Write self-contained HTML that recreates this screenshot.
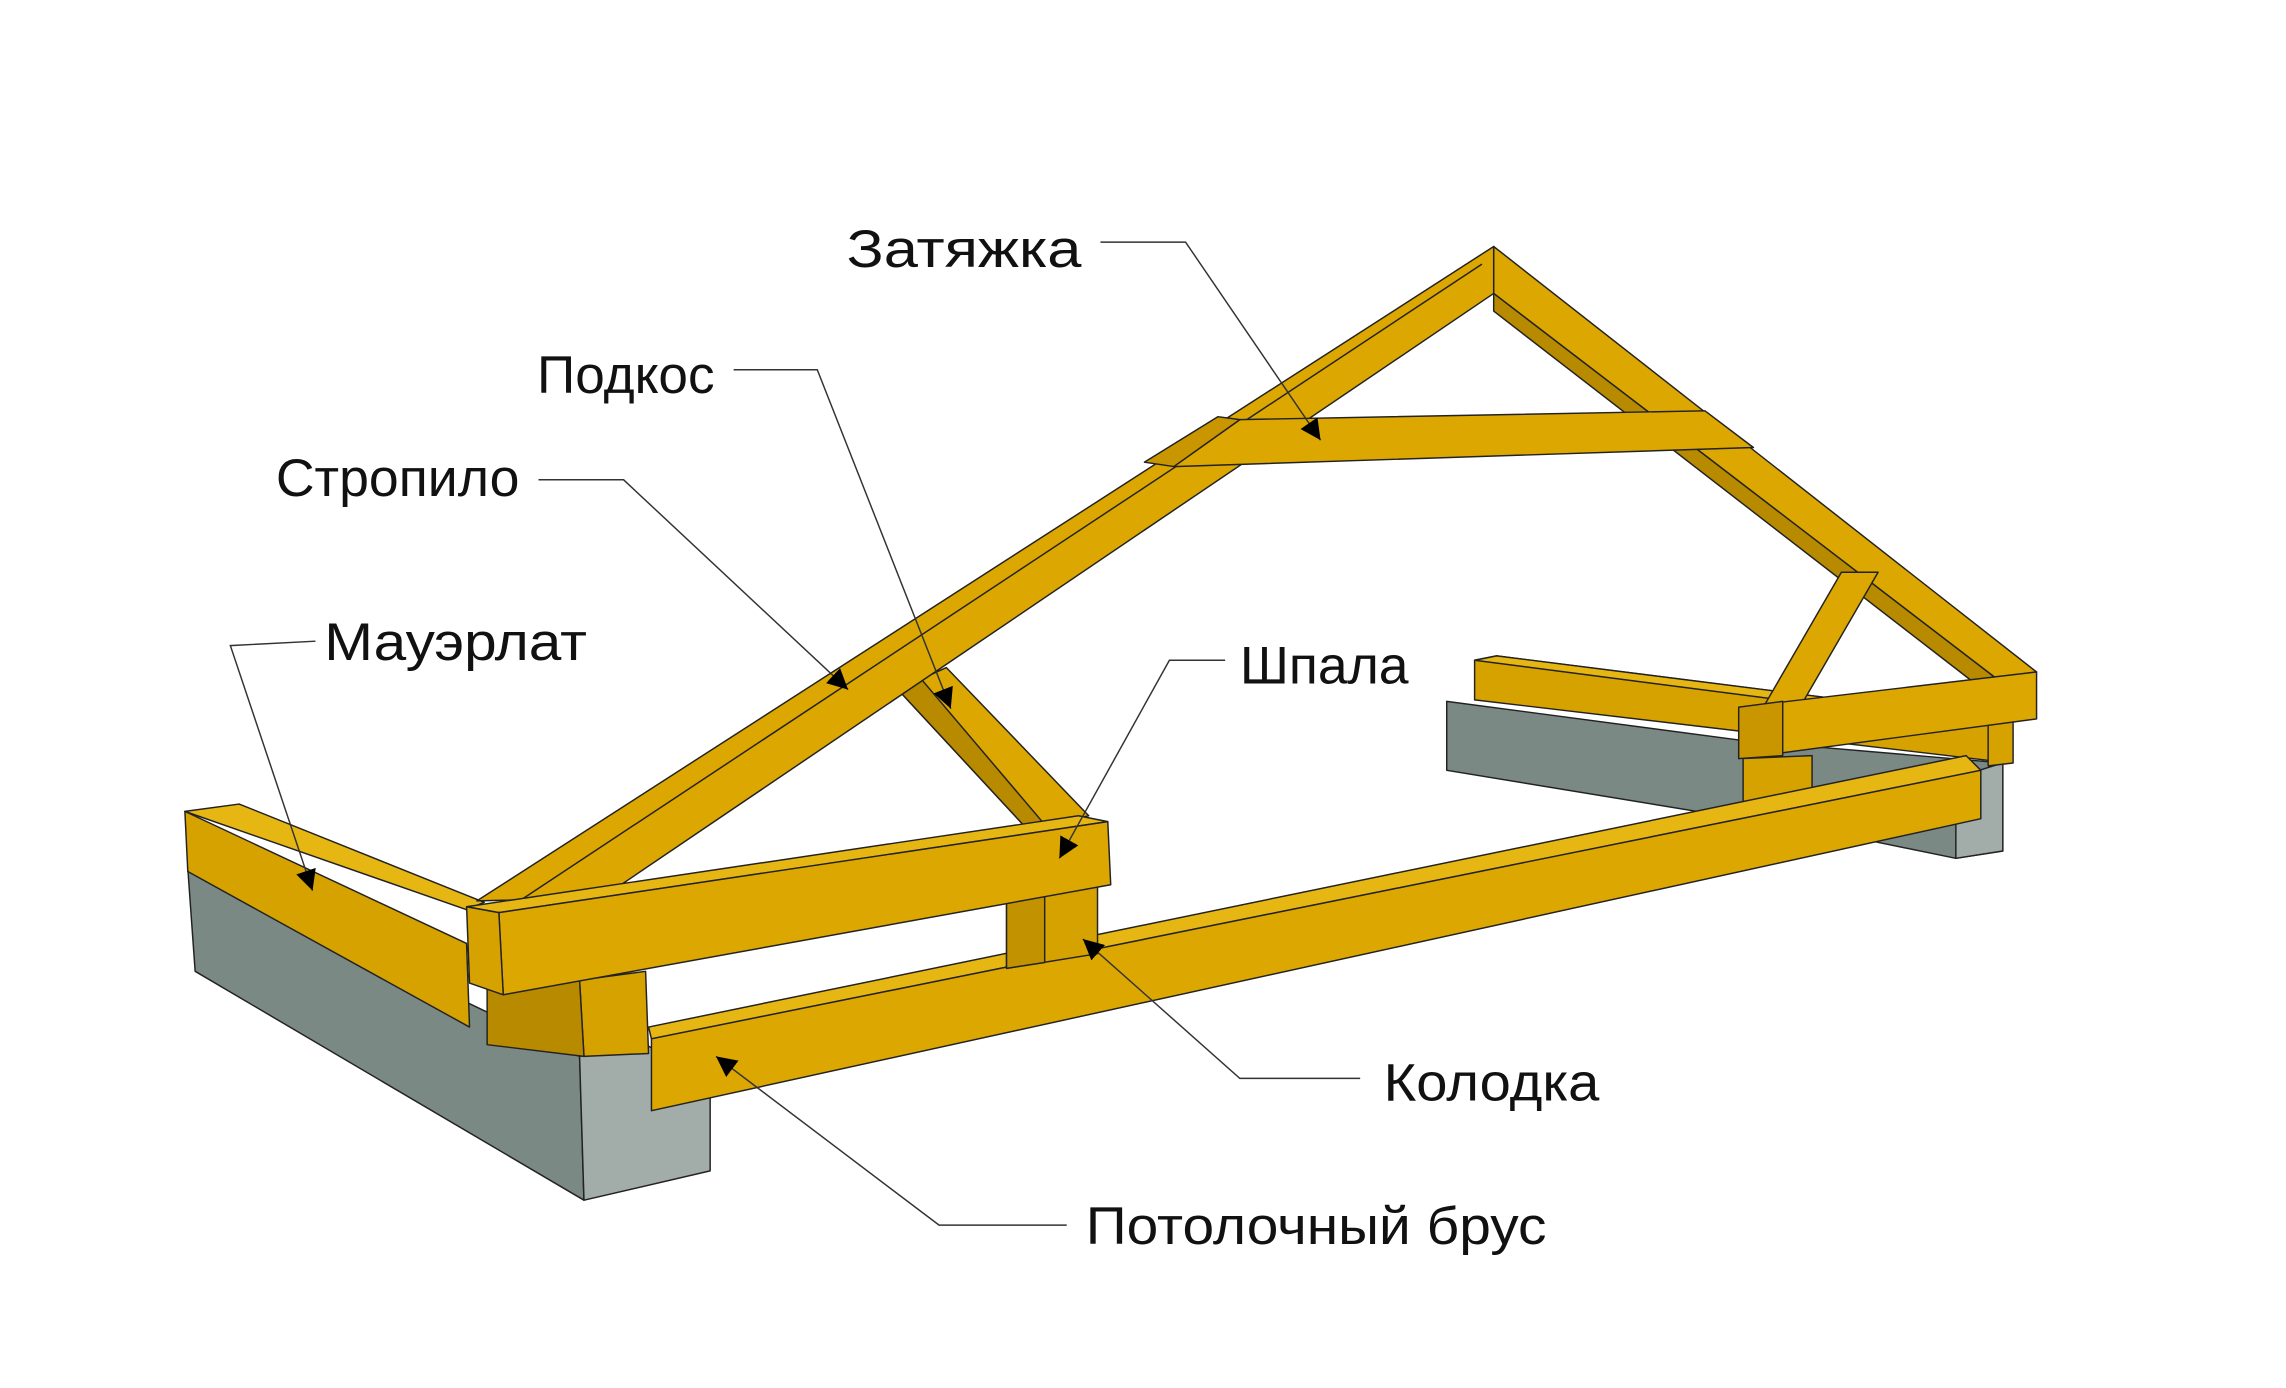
<!DOCTYPE html>
<html><head><meta charset="utf-8"><style>
html,body{margin:0;padding:0;background:#fff;}
svg{display:block;}
text{font-family:"Liberation Sans",sans-serif;font-size:36px;fill:#111;}
</style></head><body>
<svg width="2286" height="1388" viewBox="0 0 1558 946" preserveAspectRatio="none" xmlns="http://www.w3.org/2000/svg">
<defs>
<marker id="ar" viewBox="0 0 10 10" refX="10" refY="5" markerWidth="14" markerHeight="14" markerUnits="userSpaceOnUse" orient="auto"><path d="M0,0 L10,5 L0,10 z" fill="#000"/></marker>
</defs>
<g stroke="#222" stroke-width="1" stroke-linejoin="round">
<!-- right concrete -->
<polygon points="986,478 1190,505 1365,520 1365,580 1333,585 1260,570 986,525" fill="#7a8984"/>
<polygon points="1333,530 1365,520 1365,580 1333,585" fill="#a2aca9"/>
<!-- left concrete -->
<polygon points="128,592 395,720 398,818 133,662" fill="#7a8984"/>
<polygon points="395,720 440,712 484,735 484,798 398,818" fill="#a2aca9"/>
<!-- right mauerlat -->
<polygon points="1005,450 1020,447 1360,490 1370,520 1005,477" fill="#d6a200"/>
<polygon points="1005,450 1020,447 1360,490 1345,494" fill="#e6b612"/>
<!-- right rafter -->
<polygon points="1018,168 1388,458 1360,462 1018,200" fill="#dca700"/>
<polygon points="1018,200 1360,462 1345,465 1018,212" fill="#b88a00"/>
<!-- right strut -->
<polygon points="1200,485 1255,390 1280,390 1225,485" fill="#dca700"/>
<!-- right blocks -->
<polygon points="1188,517 1235,515 1235,548 1188,550" fill="#d6a200"/>
<polygon points="1355,492 1372,490 1372,520 1355,522" fill="#d6a200"/>
<!-- right shpala -->
<polygon points="1185,482 1388,458 1388,490 1185,517" fill="#dca700"/>
<polygon points="1185,482 1215,478 1215,515 1185,517" fill="#c99600"/>
<!-- left mauerlat -->
<polygon points="126,553 163,548 330,615 318,620" fill="#e6b612"/>
<polygon points="126,553 318,643 320,700 128,594" fill="#d6a200"/>
<polygon points="395,668 440,662 442,718 398,720" fill="#d6a200"/>
<polygon points="332,668 395,668 398,720 332,712" fill="#b88a00"/>
<!-- ceiling beam -->
<polygon points="442,700 1340,515 1350,525 444,708" fill="#e6b612"/>
<polygon points="444,708 1350,525 1350,558 444,757" fill="#dca700"/>
<!-- block under shpala -->
<polygon points="686,612 748,603 748,650 686,660" fill="#d6a200"/>
<polygon points="686,612 712,608 712,656 686,660" fill="#c39200"/>
<!-- left strut -->
<polygon points="612,470 645,455 742,556 700,565" fill="#dca700"/>
<polygon points="612,470 628,463 712,562 700,565" fill="#b88a00"/>
<!-- left rafter -->
<polygon points="325,614 1018,168 1018,200 410,612" fill="#dca700"/>
<line x1="345" y1="620" x2="1010" y2="180"/>
<!-- tie -->
<polygon points="800,318 845,286 1162,280 1195,305" fill="#dca700"/>
<polygon points="780,315 830,284 845,286 800,318" fill="#c99600"/>
<!-- left shpala -->
<polygon points="318,618 735,556 755,560 340,622" fill="#e6b612"/>
<polygon points="340,622 755,560 757,603 343,678" fill="#dca700"/>
<polygon points="318,618 340,622 343,678 320,670" fill="#d6a200"/>
</g>
<!-- leaders -->
<g stroke="#333" stroke-width="1" fill="none" marker-end="url(#ar)">
<polyline points="750,165 808,165 900,300"/>
<polyline points="500,252 557,252 648,483"/>
<polyline points="367,327 425,327 578,470"/>
<polyline points="215,437 157,440 213,607"/>
<polyline points="835,450 797,450 722,585"/>
<polyline points="927,735 845,735 738,640"/>
<polyline points="727,835 640,835 488,720"/>
</g>
<text x="577" y="182" textLength="160" lengthAdjust="spacingAndGlyphs">Затяжка</text>
<text x="366" y="268" textLength="121" lengthAdjust="spacingAndGlyphs">Подкос</text>
<text x="188" y="338" textLength="166" lengthAdjust="spacingAndGlyphs">Стропило</text>
<text x="221" y="450" textLength="179" lengthAdjust="spacingAndGlyphs">Мауэрлат</text>
<text x="845" y="466" textLength="115" lengthAdjust="spacingAndGlyphs">Шпала</text>
<text x="943" y="750" textLength="147" lengthAdjust="spacingAndGlyphs">Колодка</text>
<text x="740" y="848" textLength="314" lengthAdjust="spacingAndGlyphs">Потолочный брус</text>
</svg>
</body></html>
